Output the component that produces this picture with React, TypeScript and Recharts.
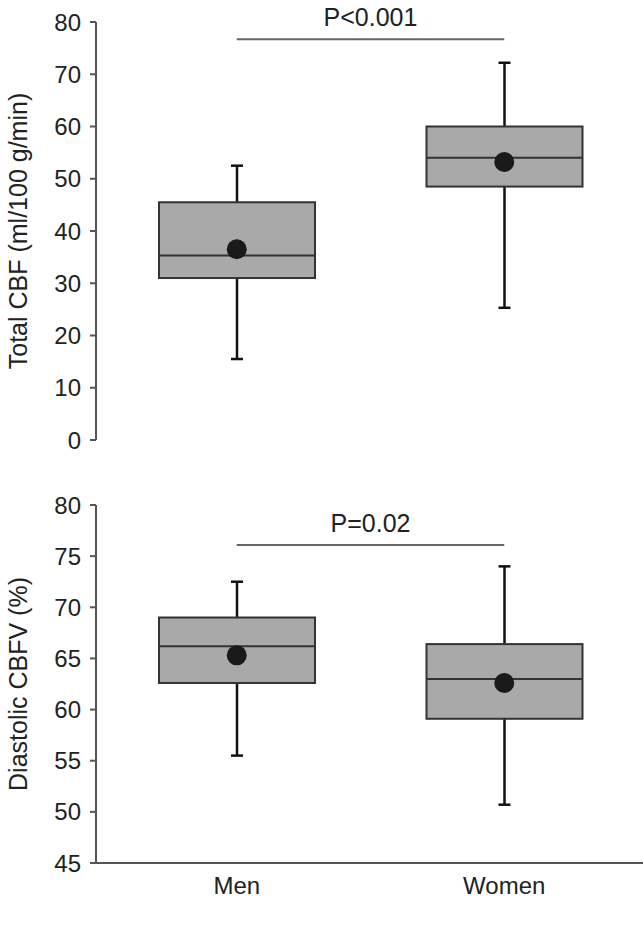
import {
  ComposedChart,
  Bar,
  Scatter,
  XAxis,
  YAxis,
  ReferenceLine,
} from 'recharts'

const groups = ['Men', 'Women']

// Total CBF (ml/100 g/min)
const cbfLow = [15.5, 25.3]
const cbfQ1 = [31, 48.5]
const cbfMedian = [35.3, 54]
const cbfQ3 = [45.5, 60]
const cbfHigh = [52.5, 72.2]
const cbfMean = [36.5, 53.2]
const cbfTicks = [0, 10, 20, 30, 40, 50, 60, 70, 80]

// Diastolic CBFV (%)
const dLow = [55.5, 50.7]
const dQ1 = [62.6, 59.1]
const dMedian = [66.2, 63]
const dQ3 = [69, 66.4]
const dHigh = [72.5, 74]
const dMean = [65.3, 62.6]
const dTicks = [45, 50, 55, 60, 65, 70, 75, 80]

const cbfData = groups.map((g, i) => ({
  group: g, low: cbfLow[i], q1: cbfQ1[i], median: cbfMedian[i], q3: cbfQ3[i], high: cbfHigh[i], mean: cbfMean[i],
}))
const dData = groups.map((g, i) => ({
  group: g, low: dLow[i], q1: dQ1[i], median: dMedian[i], q3: dQ3[i], high: dHigh[i], mean: dMean[i],
}))

const FONT = '"Liberation Sans", Arial, Helvetica, sans-serif'
const TEXT = '#222'
const AXIS = '#555'

// whisker range bar -> draw the full box plot inside its geometry
const BoxShape = (props: any) => {
  const { x, y, width, height, payload } = props
  const top = Math.min(y, y + height)
  const bottom = Math.max(y, y + height)
  const span = payload.high - payload.low
  const py = (v: number) => top + ((payload.high - v) / span) * (bottom - top)
  const cx = x + width / 2
  const cap = 6
  return (
    <g>
      <line x1={cx} x2={cx} y1={py(payload.high)} y2={py(payload.low)} stroke="#111" strokeWidth={2.5} />
      <line x1={cx - cap} x2={cx + cap} y1={py(payload.high)} y2={py(payload.high)} stroke="#111" strokeWidth={2.5} />
      <line x1={cx - cap} x2={cx + cap} y1={py(payload.low)} y2={py(payload.low)} stroke="#111" strokeWidth={2.5} />
      <rect
        x={x}
        y={py(payload.q3)}
        width={width}
        height={py(payload.q1) - py(payload.q3)}
        fill="#a9a9a9"
        stroke="#333"
        strokeWidth={2}
      />
      <line x1={x} x2={x + width} y1={py(payload.median)} y2={py(payload.median)} stroke="#333" strokeWidth={2} />
    </g>
  )
}

const MeanDot = (props: any) => (
  <circle cx={props.cx} cy={props.cy} r={10} fill="#1a1a1a" />
)

const tickStyle = { fontSize: 24, fill: TEXT, fontFamily: FONT }

function BoxPanel({
  data, ticks, domain, yLabel, pValue, pY, height, marginTop, showX,
}: {
  data: any[]; ticks: number[]; domain: [number, number]; yLabel: string; pValue: string; pY: number
  height: number; marginTop: number; showX: boolean
}) {
  return (
    <ComposedChart
      width={643}
      height={height}
      data={data}
      margin={{ top: marginTop, right: 0, left: 0, bottom: showX ? 28 : 20 }}
    >
      <XAxis
        dataKey="group"
        hide={!showX}
        padding={{ left: 7, right: 5 }}
        tickLine={false}
        axisLine={{ stroke: AXIS, strokeWidth: 2 }}
        tick={{ fontSize: 24, fill: TEXT, fontFamily: FONT }}
        tickMargin={8}
        height={40}
      />
      <YAxis
        type="number"
        domain={domain}
        ticks={ticks}
        interval={0}
        width={96}
        tickSize={6}
        tickMargin={9}
        tick={tickStyle}
        tickLine={{ stroke: AXIS, strokeWidth: 2 }}
        axisLine={{ stroke: AXIS, strokeWidth: 2 }}
        label={{
          value: yLabel,
          angle: -90,
          position: 'center',
          dx: -30,
          style: { fontSize: 25, fill: TEXT, fontFamily: FONT, textAnchor: 'middle' },
        }}
      />
      <ReferenceLine
        segment={[{ x: 'Men', y: pY }, { x: 'Women', y: pY }]}
        stroke="#666"
        strokeWidth={2}
        ifOverflow="visible"
        label={{
          value: pValue,
          position: 'top',
          offset: 13,
          style: { fontSize: 25, fill: TEXT, fontFamily: FONT },
        }}
      />
      <Bar
        dataKey={(d: any) => [d.low, d.high]}
        barSize={156}
        shape={BoxShape}
        isAnimationActive={false}
      />
      <Scatter dataKey="mean" shape={MeanDot} isAnimationActive={false} />
    </ComposedChart>
  )
}

export default function App() {
  return (
    <div style={{ position: 'absolute', left: 0, top: 0, width: 643, height: 931, background: '#fff' }}>
      <BoxPanel
        data={cbfData}
        ticks={cbfTicks}
        domain={[0, 80]}
        yLabel="Total CBF (ml/100 g/min)"
        pValue="P<0.001"
        pY={76.7}
        height={460}
        marginTop={22}
        showX={false}
      />
      <div style={{ position: 'absolute', left: 0, top: 470 }}>
        <BoxPanel
          data={dData}
          ticks={dTicks}
          domain={[45, 80]}
          yLabel="Diastolic CBFV (%)"
          pValue="P=0.02"
          pY={76.1}
          height={461}
          marginTop={35}
          showX
        />
      </div>
    </div>
  )
}
